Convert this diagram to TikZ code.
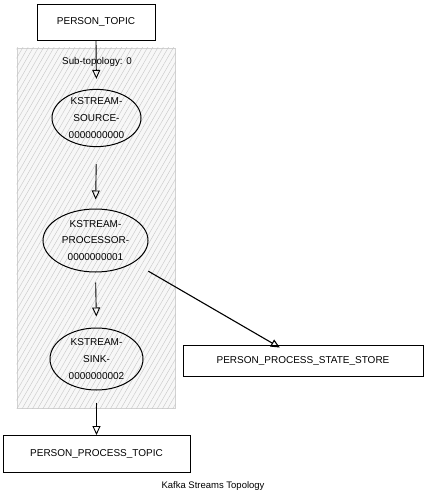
\documentclass[tikz,border=0pt]{standalone}
\usepackage{fontspec}
\setmainfont{Liberation Sans}
\usetikzlibrary{shapes.geometric,arrows.meta,patterns.meta}
\begin{document}
\begin{tikzpicture}[x=1pt,y=-1pt,
  topicbox/.style={draw=black,line width=1pt,inner sep=0pt,font=\fontsize{10}{12}\selectfont},
  procnode/.style={draw=black,line width=1pt,ellipse,inner sep=0pt,align=center,font=\fontsize{10}{16.7}\selectfont},
  flow/.style={draw=black,line width=0.9pt,-{Triangle[open,length=9pt,width=8pt]}},
]
\useasboundingbox (0,0) rectangle (427,501);
% sub-topology region
\node[draw=gray!35,line width=1pt,fill=gray!6,minimum width=158pt,minimum height=360pt,inner sep=0pt] (sub) at (96,228) {};
\path[pattern={Lines[angle=60,distance=4.5pt,line width=0.4pt]},pattern color=gray!45] (sub.north west) rectangle (sub.south east);
\node[font=\fontsize{9.8}{11}\selectfont] (sublabel) at (97,62) {Sub-topology: 0};

\node[topicbox,minimum width=118pt,minimum height=36pt] (pt) at (96,22) {PERSON\_TOPIC};
\node[procnode,minimum width=89pt,minimum height=56pt] (src) at (96.5,118) {KSTREAM-\\SOURCE-\\0000000000};
\node[procnode,minimum width=105pt,minimum height=63pt] (proc) at (95.5,240.5) {KSTREAM-\\PROCESSOR-\\0000000001};
\node[procnode,minimum width=93pt,minimum height=62pt] (sink) at (96.5,359) {KSTREAM-\\SINK-\\0000000002};
\node[topicbox,minimum width=187pt,minimum height=37pt] (ppt) at (96.5,454) {PERSON\_PROCESS\_TOPIC};
\node[topicbox,minimum width=240pt,minimum height=31pt] (store) at (303,361) {PERSON\_PROCESS\_STATE\_STORE};
\node[font=\fontsize{9.5}{11}\selectfont] (caption) at (213,486) {Kafka Streams Topology};

\draw[flow,shorten >=10pt] (pt.south) -- (src.north);
\draw[flow,shorten <=17pt,shorten >=9pt] (src.south) -- (proc.north);
\draw[flow,shorten <=10pt,shorten >=11pt] (proc.south) -- (sink.north);
\draw[flow,shorten <=12pt] (sink.south) -- (ppt.north);
\draw[flow,line width=1.1pt,shorten <=17pt,shorten >=-5pt] (proc) -- (store);
\end{tikzpicture}
\end{document}
